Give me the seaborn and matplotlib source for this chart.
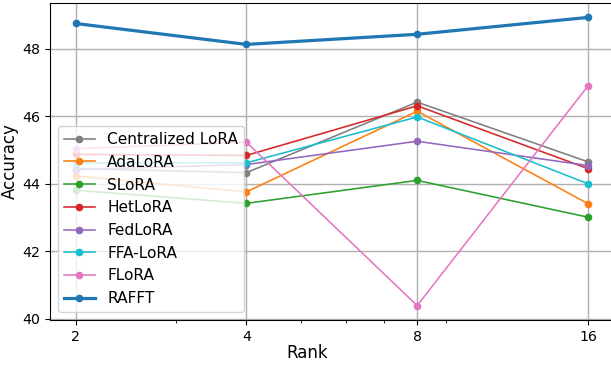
import matplotlib
matplotlib.use("Agg")
import matplotlib.pyplot as plt
import seaborn as sns
import pandas as pd
from matplotlib.ticker import FixedLocator, ScalarFormatter, NullFormatter

ranks = [2, 4, 8, 16]
centralized_lora = [44.45, 44.33, 46.42, 44.65]
adalora = [44.23, 43.76, 46.15, 43.41]
slora = [43.81, 43.42, 44.10, 43.01]
hetlora = [44.87, 44.84, 46.31, 44.45]
fedlora = [44.42, 44.57, 45.26, 44.54]
ffa_lora = [44.62, 44.62, 45.98, 44.00]
flora = [45.04, 45.23, 40.39, 46.90]
rafft = [48.75, 48.13, 48.43, 48.93]

series = [
    ("Centralized LoRA", centralized_lora, "#7f7f7f"),
    ("AdaLoRA", adalora, "#ff7f0e"),
    ("SLoRA", slora, "#2ca02c"),
    ("HetLoRA", hetlora, "#d62728"),
    ("FedLoRA", fedlora, "#9467bd"),
    ("FFA-LoRA", ffa_lora, "#17becf"),
    ("FLoRA", flora, "#e377c2"),
    ("RAFFT", rafft, "#1f77b4"),
]

fig = plt.figure(figsize=(6.11, 3.66), dpi=100)
ax = fig.add_axes([50 / 611, 46 / 366, 563.6 / 611, 317 / 366])

for name, vals, color in series:
    df = pd.DataFrame({"Rank": ranks, "Accuracy": vals})
    lw = 2.3 if name == "RAFFT" else 1.15
    sns.lineplot(data=df, x="Rank", y="Accuracy", ax=ax, label=name, color=color,
                 marker="o", markersize=5.5, markeredgewidth=0, linewidth=lw)

ax.set_xscale("log")
ax.xaxis.set_major_locator(FixedLocator(ranks))
ax.xaxis.set_major_formatter(ScalarFormatter())
ax.xaxis.set_minor_formatter(NullFormatter())
ax.set_yticks([40, 42, 44, 46, 48])
ax.tick_params(labelsize=10.2)
ax.grid(True, which="major", color="#b0b0b0", linewidth=1.0)
ax.set_xlabel("Rank", fontsize=12)
ax.set_ylabel("Accuracy", fontsize=12)
ax.xaxis.set_label_coords((307.5 - 50) / 563.6, -0.075)
ax.yaxis.set_label_coords(-0.056, 0.5)
ax.legend(loc="lower left", fontsize=11.1)

fig.savefig("out.png", dpi=100)
